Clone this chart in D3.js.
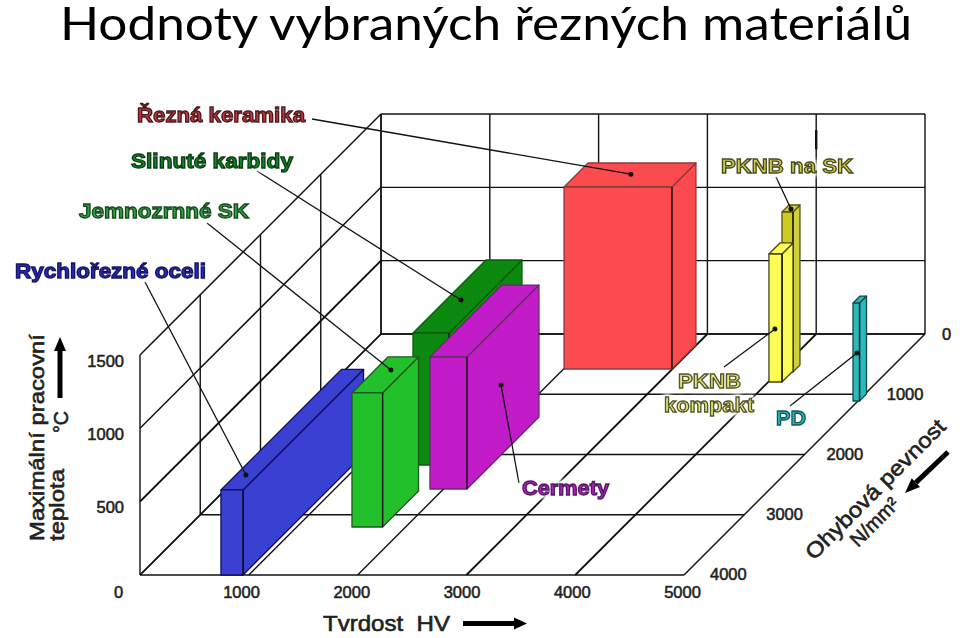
<!DOCTYPE html>
<html><head><meta charset="utf-8">
<script src="https://cdnjs.cloudflare.com/ajax/libs/d3/7.8.5/d3.min.js"></script>
<style>
html,body{margin:0;padding:0;background:#fff}
svg{display:block}
text{font-family:"Liberation Sans",Arial,sans-serif;white-space:pre}
</style></head><body>
<svg id="chart" width="960" height="638"></svg>
<script>
// ---- data ----
const hardnessTicks = [0,1000,2000,3000,4000,5000];
const strengthTicks = [0,1000,2000,3000,4000];
const temperatureTicks = [0,500,1000,1500];
const materials = ["Řezná keramika","PKNB na SK","PKNB kompakt","PD","Slinuté karbidy","Cermety","Rychlořezné oceli","Jemnozrnné SK"];
const hardnessMin = [2004,4035,4007,4954,1498,1875,744,1507];
const hardnessMax = [2996,4136,4127,5014,1829,2215,947,1788];
const strengthMin = [183,515,614,996,963,1378,2000,2606];
const strengthMax = [581,631,797,1112,2174,2573,4000,3203];
const temperatureMax = [1241,1091,873,668,900,900,580,914];
const leaderHardness = [2500,4090,4062,4991,1636,2215,836,1654];
const leaderStrength = [368,581,797,1112,1627,2008,3751,2822];
const leaderTemperature = [1241,1091,361,327,900,477,580,914];
const titleText = "Hodnoty vybraných řezných materiálů";

// ---- styles / layout ----
const faceFill = ["#fb4b4e","#cccb1e","#fcfc55","#2bb9bb","#0c8a10","#c21bc8","#3a40d2","#22c02a"];
const sideFill = ["#fb4b4e","#cfcf42","#fcfc55","#2bb9bb","#0c8a10","#c21bc8","#3a40d2","#22c02a"];
const topFill  = ["#fb4b4e","#cfcf42","#fcfc55","#2bb9bb","#0c8a10","#c21bc8","#3a40d2","#22c02a"];
const edgeColor= ["#8a3a3a","#55551a","#44441a","#124a4a","#0a5a0c","#6a2a6a","#10105a","#1a5a1c"];
const labelLayout = [
 {t:"Řezná keramika",x:137,y:122,w:168,fill:"#c0363c",stroke:"#4a1a20",x1:312,y1:119,idx:0},
 {t:"Slinuté karbidy",x:131,y:168,w:162,fill:"#0f8a20",stroke:"#0a3a14",x1:257,y1:171,idx:4},
 {t:"Jemnozrnné SK",x:79,y:218,w:170,fill:"#35a040",stroke:"#164a20",x1:207,y1:223,idx:7},
 {t:"Rychlořezné oceli",x:15,y:278,w:191,fill:"#2a2ac0",stroke:"#141460",x1:145,y1:282,idx:6},
 {t:"PKNB na SK",x:721,y:173,w:132,fill:"#cccb50",stroke:"#4a4a20",x1:776,y1:177,idx:1},
 {t:"PKNB",x:678,y:387.5,w:63,fill:"#e8e880",stroke:"#55552a",x1:724,y1:367,idx:2},
 {t:"kompakt",x:664,y:412,w:90,fill:"#e8e880",stroke:"#55552a"},
 {t:"PD",x:776,y:425,w:30,fill:"#2ab5b8",stroke:"#125a5a",x1:790,y1:406,idx:3},
 {t:"Cermety",x:522,y:495,w:87,fill:"#b020b8",stroke:"#501860",x1:519,y1:483,idx:5}
];

// ---- scales: oblique projection ----
const originX = 140, originY = 575;
const xScale = d3.scaleLinear().domain([0,5000]).range([0,544]);
const depth = d3.scaleLinear().domain([4000,0]).range([0,241]);
const tScale = d3.scaleLinear().domain([0,1500]).range([0,220]);
const px = (hv,s) => originX + xScale(hv) + depth(s);
const py = (s,t) => originY - depth(s) - tScale(t);
const P = (hv,s,t) => [px(hv,s),py(s,t)];

const svg = d3.select("#chart");
const line = d3.line();
const ink = "#111";

svg.append("text").attr("x",60).attr("y",40).attr("font-size",47).attr("fill","#000")
  .attr("textLength",852).attr("lengthAdjust","spacingAndGlyphs")
  .style("font-family","Lato,'Open Sans',sans-serif").text(titleText);

// ---- grid ----
const hvMax = 5000, sMax = 4000, tMax = 1500;
const grid = svg.append("g").attr("fill","none").attr("stroke",ink);
const seg = (a,b,w) => grid.append("path").attr("d",line([a,b])).attr("stroke-width",w||1.4);
temperatureTicks.forEach(t=>{
  seg(P(0,sMax,t),P(0,0,t), t===500?2:1.5);
  seg(P(0,0,t),P(hvMax,0,t));
});
strengthTicks.forEach(s=>{
  seg(P(0,s,0),P(0,s,tMax));
  seg(P(0,s,0),P(hvMax,s,0));
});
hardnessTicks.forEach(h=>{
  seg(P(h,0,0),P(h,0,tMax));
  seg(P(h,0,0),P(h,sMax,0), h===3000||h===4000?1.8:1.4);
});
seg(P(4000,0,1390),P(4000,0,1260),2.4);

// ---- boxes ----
const boxes = svg.append("g").attr("stroke-linejoin","round");
materials.forEach((m,i)=>{
  const h0=hardnessMin[i],h1=hardnessMax[i],s0=strengthMin[i],s1=strengthMax[i],T=temperatureMax[i];
  const g = boxes.append("g").attr("stroke",edgeColor[i]).attr("stroke-width",1.3);
  g.append("path").attr("fill",sideFill[i]).attr("d",line([P(h1,s1,0),P(h1,s0,0),P(h1,s0,T),P(h1,s1,T)])+"Z");
  g.append("path").attr("fill",topFill[i]).attr("d",line([P(h0,s1,T),P(h1,s1,T),P(h1,s0,T),P(h0,s0,T)])+"Z");
  g.append("path").attr("fill",faceFill[i]).attr("d",line([P(h0,s1,0),P(h1,s1,0),P(h1,s1,T),P(h0,s1,T)])+"Z");
  g.append("path").attr("fill","none").attr("stroke","#111").attr("stroke-width",1.2).attr("d",line([P(h1,s1,0),P(h1,s1,T)]));
});

// ---- leaders ----
const leaders = svg.append("g").attr("stroke",ink).attr("fill",ink);
labelLayout.filter(d=>d.idx!==undefined).forEach(d=>{
  const e = P(leaderHardness[d.idx],leaderStrength[d.idx],leaderTemperature[d.idx]);
  leaders.append("path").attr("fill","none").attr("stroke-width",1.3).attr("d",line([[d.x1,d.y1],e]));
  leaders.append("circle").attr("cx",e[0]).attr("cy",e[1]).attr("r",2.5).attr("stroke","none");
});

// ---- material labels ----
svg.append("g").selectAll("text").data(labelLayout).join("text")
  .attr("x",d=>d.x).attr("y",d=>d.y).text(d=>d.t)
  .attr("textLength",d=>d.w).attr("lengthAdjust","spacingAndGlyphs")
  .attr("font-size",21).attr("font-weight","bold")
  .attr("fill",d=>d.fill).attr("stroke",d=>d.stroke).attr("stroke-width",1.3)
  .style("filter","drop-shadow(0 0 2px #fff) drop-shadow(0 0 2px #fff) drop-shadow(0 0 2px #fff)");

// ---- axes ----
const tickStyle = g => { g.select(".domain").remove();
  g.selectAll("text").attr("font-size",16.5).attr("fill","#222").attr("stroke","#222").attr("stroke-width",.55)
   .style("font-family","'Liberation Sans',Arial,sans-serif"); };
const hvLabel = d3.scaleLinear().domain([0,1000,5000]).range([118,241,682]);
svg.append("g").attr("transform","translate(0,586)")
  .call(d3.axisBottom(hvLabel).tickValues(hardnessTicks).tickSize(0).tickPadding(0).tickFormat(d3.format("d"))).call(tickStyle);
const tLabel = d3.scaleLinear().domain([0,1500]).range([581,361]);
svg.append("g").attr("transform","translate(124,0)")
  .call(d3.axisLeft(tLabel).tickValues(temperatureTicks.slice(1)).tickSize(0).tickPadding(0).tickFormat(d3.format("d"))).call(tickStyle);
const sLabelY = d3.scaleLinear().domain([0,4000]).range([334,574]);
const sAxis = svg.append("g");
sAxis.selectAll("g").data(strengthTicks).join("g")
  .attr("transform",s=>`translate(${px(hvMax,s)+(s===0?17:s===4000?26:22)},${sLabelY(s)})`)
  .append("text").attr("dy","0.36em").attr("text-anchor","start").text(d3.format("d"));
sAxis.call(tickStyle);

// ---- axis titles ----
const rot = (x,y,a,txt,w,size,anchor) => svg.append("text")
  .attr("transform",`translate(${x},${y}) rotate(${a})`).attr("text-anchor",anchor||"start")
  .attr("font-size",size).attr("fill","#222").attr("stroke","#222").attr("stroke-width",.6)
  .attr("textLength",w).attr("lengthAdjust","spacingAndGlyphs").text(txt);
rot(44,541,-90,"Maximální pracovní",207,21);
rot(64,541,-90,"teplota",72,21);
rot(68,433,-90,"°C",22,21);
rot(323,631,0,"Tvrdost  HV",127,21.5);
rot(814,561,-45,"Ohybová pevnost",188,21.5);
rot(858,548,-45,"N/mm²",60,20);

// ---- arrows ----
const arrow = (x1,y1,x2,y2,w,len,hw) => {
  const a=Math.atan2(y2-y1,x2-x1),c=Math.cos(a),s=Math.sin(a);
  const bx=x2-len*c,by=y2-len*s;
  svg.append("path").attr("fill","none").attr("stroke","#000").attr("stroke-width",w).attr("d",line([[x1,y1],[bx,by]]));
  svg.append("path").attr("fill","#000").attr("d",line([[x2,y2],[bx-hw*s,by+hw*c],[bx+hw*s,by-hw*c]])+"Z");
};
arrow(60,398,60,337,5,14,6);
arrow(463,623.5,527,623.5,5,13,6);
arrow(948,452,905,493,5,15,6);
</script>
</body></html>
